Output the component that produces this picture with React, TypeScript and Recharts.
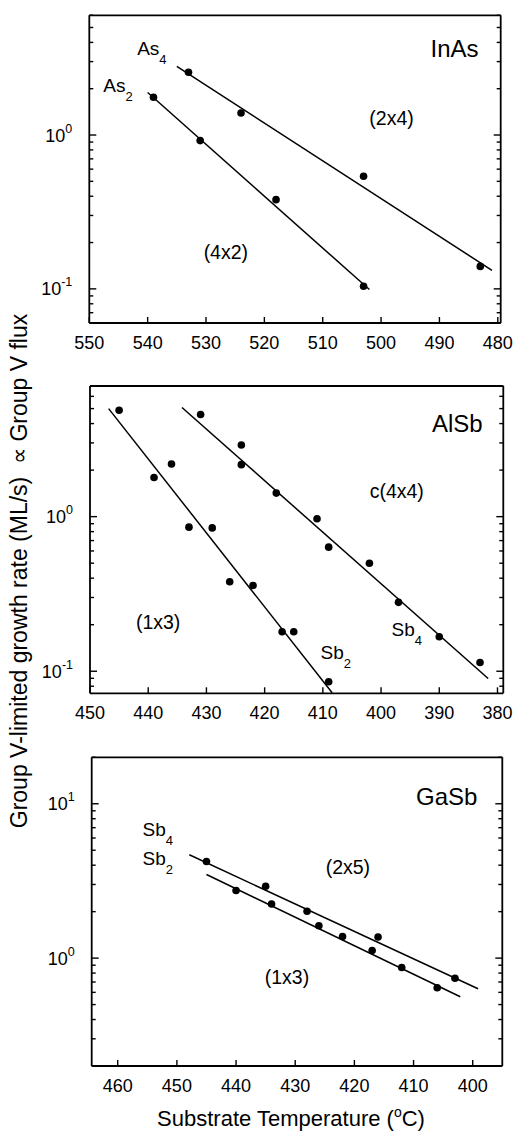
import React from "react";
import { ComposedChart, Line, Scatter, XAxis, YAxis, ReferenceDot } from "recharts";

const FONT = '"Liberation Sans", Arial, Helvetica, sans-serif';

// ---- InAs panel ----
const inasTicksX = [550, 540, 530, 520, 510, 500, 490, 480];
const inasTicksY = [0.06, 0.07, 0.08, 0.09, 0.1, 0.2, 0.3, 0.4, 0.5, 0.6, 0.7, 0.8, 0.9, 1, 2, 3, 4, 5, 6];
const inasAs4T = [533, 524, 503, 483];
const inasAs4Rate = [2.56, 1.39, 0.54, 0.14];
const inasAs2T = [539, 531, 518, 503];
const inasAs2Rate = [1.76, 0.92, 0.38, 0.104];
const inasAs4FitT = [535, 481];
const inasAs4FitRate = [2.79, 0.132];
const inasAs2FitT = [540, 502];
const inasAs2FitRate = [1.89, 0.099];

// ---- AlSb panel ----
const alsbTicksX = [450, 440, 430, 420, 410, 400, 390, 380];
const alsbTicksY = [0.08, 0.09, 0.1, 0.2, 0.3, 0.4, 0.5, 0.6, 0.7, 0.8, 0.9, 1, 2, 3, 4, 5, 6, 7];
const alsbSb2T = [445, 439, 436, 433, 429, 426, 422, 417, 415, 409];
const alsbSb2Rate = [4.88, 1.79, 2.19, 0.855, 0.846, 0.379, 0.359, 0.18, 0.18, 0.0855];
const alsbSb4T = [431, 424, 424, 418, 411, 409, 402, 397, 390, 383];
const alsbSb4Rate = [4.58, 2.91, 2.17, 1.42, 0.97, 0.635, 0.5, 0.279, 0.167, 0.114];
const alsbSb2FitT = [446.8, 408.4];
const alsbSb2FitRate = [5.0, 0.0726];
const alsbSb4FitT = [434.2, 381.6];
const alsbSb4FitRate = [5.08, 0.0897];

// ---- GaSb panel ----
const gasbTicksX = [460, 450, 440, 430, 420, 410, 400];
const gasbTicksY = [0.2, 0.3, 0.4, 0.5, 0.6, 0.7, 0.8, 0.9, 1, 2, 3, 4, 5, 6, 7, 8, 9, 10, 20];
const gasbSb4T = [445, 435, 428, 416, 403];
const gasbSb4Rate = [4.23, 2.92, 2.01, 1.37, 0.741];
const gasbSb2T = [440, 434, 426, 422, 417, 412, 406];
const gasbSb2Rate = [2.74, 2.24, 1.62, 1.38, 1.12, 0.869, 0.643];
const gasbSb4FitT = [447.9, 399.1];
const gasbSb4FitRate = [4.67, 0.633];
const gasbSb2FitT = [445.0, 402.1];
const gasbSb2FitRate = [3.48, 0.562];

type Pt = { t: number; v: number };
const zip = (t: number[], v: number[]): Pt[] => t.map((x, i) => ({ t: x, v: v[i] }));

type Note = { text: string; sub?: string; t: number; v: number; size: number; anchor: "start" | "middle" | "end" };

const isDecade = (v: number) => Math.abs(Math.log10(v) - Math.round(Math.log10(v))) < 1e-6;

function BottomTick(props: any) {
  const { x, y, payload } = props;
  return (
    <g>
      <line x1={x} x2={x} y1={y} y2={y - 6} stroke="#000" strokeWidth={1.4} />
      <text x={x} y={y + 26} textAnchor="middle" fontSize={18} fontFamily={FONT} fill="#000">
        {payload.value}
      </text>
    </g>
  );
}

function TopTick(props: any) {
  const { x, y } = props;
  return <line x1={x} x2={x} y1={y} y2={y + 6} stroke="#000" strokeWidth={1.4} />;
}

function LeftTick(props: any) {
  const { x, y, payload } = props;
  const v = payload.value;
  const major = isDecade(v);
  return (
    <g>
      <line x1={x} x2={x + (major ? 7 : 4)} y1={y} y2={y} stroke="#000" strokeWidth={1.4} />
      {major && (
        <text x={x - 17} y={y + 6.5} textAnchor="end" fontSize={18} fontFamily={FONT} fill="#000">
          10
          <tspan dy={-9} fontSize={12.5}>
            {Math.round(Math.log10(v))}
          </tspan>
        </text>
      )}
    </g>
  );
}

function RightTick(props: any) {
  const { x, y, payload } = props;
  const major = isDecade(payload.value);
  return <line x1={x} x2={x - (major ? 7 : 4)} y1={y} y2={y} stroke="#000" strokeWidth={1.4} />;
}

function Dot(props: any) {
  return <circle cx={props.cx} cy={props.cy} r={3.8} fill="#000" />;
}

function NoteText(props: any) {
  const { cx, cy, note } = props;
  const n: Note = note;
  return (
    <text x={cx} y={cy} dy="0.35em" textAnchor={n.anchor} fontSize={n.size} fontFamily={FONT} fill="#000">
      {n.text}
      {n.sub && (
        <tspan dy={9} fontSize={13}>
          {n.sub}
        </tspan>
      )}
    </text>
  );
}

type PanelProps = {
  top: number;
  height: number;
  plotLeft: number;
  margin: { top: number; right: number; bottom: number; left: number };
  xDomain: [number, number];
  xTicks: number[];
  yDomain: [number, number];
  yTicks: number[];
  points: Pt[][];
  fits: Pt[][];
  notes: Note[];
};

function Panel(p: PanelProps) {
  const axisLine = { stroke: "#000", strokeWidth: 1.8 };
  return (
    <div style={{ position: "absolute", left: 0, top: p.top }}>
      <ComposedChart width={523} height={p.height} margin={p.margin}>
        <XAxis
          xAxisId="b"
          type="number"
          dataKey="t"
          domain={p.xDomain}
          reversed
          allowDataOverflow
          ticks={p.xTicks}
          interval={0}
          tickLine={false}
          tickSize={0}
          tickMargin={0}
          height={35}
          axisLine={axisLine}
          tick={(tp: any) => <BottomTick {...tp} />}
        />
        <XAxis
          xAxisId="t"
          orientation="top"
          type="number"
          domain={p.xDomain}
          reversed
          allowDataOverflow
          ticks={p.xTicks}
          interval={0}
          tickLine={false}
          tickSize={0}
          tickMargin={0}
          height={2}
          axisLine={axisLine}
          tick={(tp: any) => <TopTick {...tp} />}
        />
        <YAxis
          yAxisId="l"
          type="number"
          dataKey="v"
          scale="log"
          domain={p.yDomain}
          allowDataOverflow
          ticks={p.yTicks}
          interval={0}
          tickLine={false}
          tickSize={0}
          tickMargin={0}
          width={p.plotLeft}
          axisLine={axisLine}
          tick={(tp: any) => <LeftTick {...tp} />}
        />
        <YAxis
          yAxisId="r"
          orientation="right"
          type="number"
          scale="log"
          domain={p.yDomain}
          allowDataOverflow
          ticks={p.yTicks}
          interval={0}
          tickLine={false}
          tickSize={0}
          tickMargin={0}
          width={2}
          axisLine={axisLine}
          tick={(tp: any) => <RightTick {...tp} />}
        />
        {p.fits.map((f, i) => (
          <Line
            key={"fit" + i}
            xAxisId="b"
            yAxisId="l"
            data={f}
            dataKey="v"
            type="linear"
            stroke="#000"
            strokeWidth={1.5}
            dot={false}
            activeDot={false}
            isAnimationActive={false}
          />
        ))}
        {p.points.map((s, i) => (
          <Scatter
            key={"pts" + i}
            xAxisId="b"
            yAxisId="l"
            data={s}
            dataKey="v"
            shape={(sp: any) => <Dot {...sp} />}
            isAnimationActive={false}
          />
        ))}
        {p.notes.map((n, i) => (
          <ReferenceDot
            key={"note" + i}
            xAxisId="b"
            yAxisId="l"
            x={n.t}
            y={n.v}
            r={0}
            shape={(sp: any) => <NoteText {...sp} note={n} />}
          />
        ))}
      </ComposedChart>
    </div>
  );
}

const inasNotes: Note[] = [
  { text: "InAs", t: 487.4, v: 3.64, size: 24, anchor: "middle" },
  { text: "As", sub: "4", t: 541.8, v: 3.67, size: 19, anchor: "start" },
  { text: "As", sub: "2", t: 547.6, v: 2.1, size: 19, anchor: "start" },
  { text: "(2x4)", t: 498.2, v: 1.28, size: 19.5, anchor: "middle" },
  { text: "(4x2)", t: 526.6, v: 0.172, size: 19.5, anchor: "middle" },
];

const alsbNotes: Note[] = [
  { text: "AlSb", t: 386.9, v: 4.0, size: 24, anchor: "middle" },
  { text: "c(4x4)", t: 397.3, v: 1.47, size: 19.5, anchor: "middle" },
  { text: "(1x3)", t: 438.3, v: 0.207, size: 19.5, anchor: "middle" },
  { text: "Sb", sub: "2", t: 410.4, v: 0.133, size: 19, anchor: "start" },
  { text: "Sb", sub: "4", t: 398.2, v: 0.188, size: 19, anchor: "start" },
];

const gasbNotes: Note[] = [
  { text: "GaSb", t: 404.4, v: 11.2, size: 24, anchor: "middle" },
  { text: "Sb", sub: "4", t: 455.8, v: 6.87, size: 19, anchor: "start" },
  { text: "Sb", sub: "2", t: 455.8, v: 4.44, size: 19, anchor: "start" },
  { text: "(2x5)", t: 421.1, v: 3.86, size: 19.5, anchor: "middle" },
  { text: "(1x3)", t: 431.4, v: 0.758, size: 19.5, anchor: "middle" },
];

export default function App() {
  return (
    <div style={{ position: "absolute", left: 0, top: 0, width: 523, height: 1133, background: "#fff" }}>
      <Panel
        top={0}
        height={358}
        plotLeft={89.3}
        margin={{ top: 13.3, right: 20.3, bottom: 0, left: 0 }}
        xDomain={[479.5, 550]}
        xTicks={inasTicksX}
        yDomain={[0.06, 6]}
        yTicks={inasTicksY}
        points={[zip(inasAs4T, inasAs4Rate), zip(inasAs2T, inasAs2Rate)]}
        fits={[zip(inasAs4FitT, inasAs4FitRate), zip(inasAs2FitT, inasAs2FitRate)]}
        notes={inasNotes}
      />
      <Panel
        top={365}
        height={363.3}
        plotLeft={90}
        margin={{ top: 19, right: 17.7, bottom: 0, left: 0 }}
        xDomain={[379, 450]}
        xTicks={alsbTicksX}
        yDomain={[0.072, 7]}
        yTicks={alsbTicksY}
        points={[zip(alsbSb2T, alsbSb2Rate), zip(alsbSb4T, alsbSb4Rate)]}
        fits={[zip(alsbSb2FitT, alsbSb2FitRate), zip(alsbSb4FitT, alsbSb4FitRate)]}
        notes={alsbNotes}
      />
      <Panel
        top={740}
        height={361}
        plotLeft={91.7}
        margin={{ top: 15.3, right: 18.7, bottom: 0, left: 0 }}
        xDomain={[395, 464.4]}
        xTicks={gasbTicksX}
        yDomain={[0.2, 20]}
        yTicks={gasbTicksY}
        points={[zip(gasbSb4T, gasbSb4Rate), zip(gasbSb2T, gasbSb2Rate)]}
        fits={[zip(gasbSb4FitT, gasbSb4FitRate), zip(gasbSb2FitT, gasbSb2FitRate)]}
        notes={gasbNotes}
      />
      <svg
        width={523}
        height={1133}
        style={{ position: "absolute", left: 0, top: 0, pointerEvents: "none" }}
      >
        <text
          transform="translate(19,571) rotate(-90)"
          dy="0.35em"
          textAnchor="middle"
          fontSize={23}
          fontFamily={FONT}
          fill="#000"
          style={{ whiteSpace: "pre" }}
        >
          {"Group V-limited growth rate (ML/s)  \u221D Group V flux"}
        </text>
        <text x={291} y={1126} textAnchor="middle" fontSize={22} fontFamily={FONT} fill="#000">
          Substrate Temperature (
          <tspan dy={-9} fontSize={14}>
            o
          </tspan>
          <tspan dy={9}>C)</tspan>
        </text>
      </svg>
    </div>
  );
}
